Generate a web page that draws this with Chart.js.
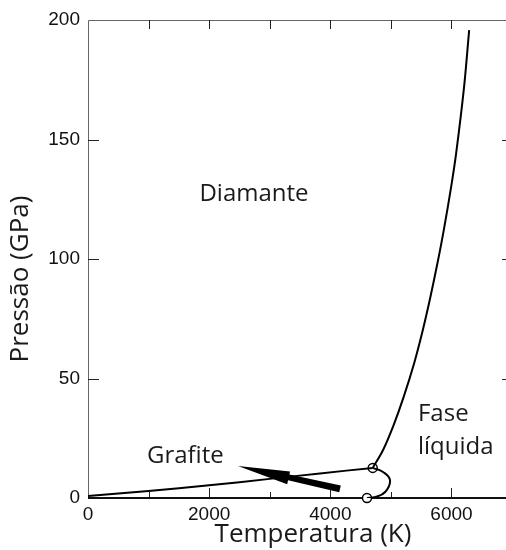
<!DOCTYPE html>
<html>
<head>
<meta charset="utf-8">
<title>Diagrama de fases do carbono</title>
<script src="https://cdn.jsdelivr.net/npm/chart.js@4.4.1/dist/chart.umd.min.js"></script>
<style>
  html, body { margin: 0; padding: 0; background: #fff; }
  canvas { display: block; }
</style>
</head>
<body>
<canvas id="phaseChart" width="506" height="550"></canvas>
<script>
// ── Data ────────────────────────────────────────────────
var xTicks      = [0, 2000, 4000, 6000];
var xMinorTicks = [1000, 3000, 5000];
var yTicks      = [0, 50, 100, 150, 200];

// graphite / diamond boundary up to the triple point
var graphiteT = [0, 1000, 2000, 3000, 3830, 4700];
var graphiteP = [0.8, 2.9, 5.3, 8.0, 10.3, 12.6];

// graphite melting curve, triple point down to 0 GPa
var meltGraphiteT = [4700, 4870, 4985, 4905, 4740, 4605];
var meltGraphiteP = [12.6, 10.9, 7.5, 2.5, 0.4, 0];

// diamond melting curve
var meltDiamondT = [4700, 4871, 5045, 5211, 5385, 5527, 5652, 5769, 5873, 5994, 6078, 6208, 6292];
var meltDiamondP = [12.6, 20.1, 30.5, 42.3, 56.5, 70.3, 84.1, 98.3, 112.1, 130.1, 144.4, 172.0, 195.8];

// open circles: triple point and graphite melting at 0 GPa
var markerT = [4700, 4605];
var markerP = [12.6, 0];

// arrow (tail -> head)
var arrowT = [4160, 2476];
var arrowP = [3.8, 13.4];

// region labels
var regionText  = ["Diamante", "Grafite", "Fase", "líquida"];
var regionT     = [2740, 974, 5447, 5447];
var regionP     = [124.1, 14.7, 32.3, 18.4];
var regionAlign = ["center", "left", "left", "left"];

function pts(xs, ys) {
  return xs.map(function(v, i) { return { x: v, y: ys[i] }; });
}

// ── Frame, inner ticks, arrow and labels ────────────────
var decor = {
  id: "decor",
  beforeDatasetsDraw: function(chart) {
    var ctx = chart.ctx, a = chart.chartArea;
    var sx = chart.scales.x, sy = chart.scales.y;
    ctx.save();

    // thin frame on left and top
    ctx.strokeStyle = "#666";
    ctx.lineWidth = 1;
    ctx.beginPath();
    ctx.moveTo(a.left + 0.5, a.bottom);
    ctx.lineTo(a.left + 0.5, a.top + 0.5);
    ctx.lineTo(a.right, a.top + 0.5);
    ctx.stroke();

    ctx.strokeStyle = "#222";
    ctx.beginPath();
    // top ticks
    xTicks.concat(xMinorTicks).forEach(function(v) {
      if (v === 0) return;
      var px = Math.round(sx.getPixelForValue(v)) + 0.5;
      ctx.moveTo(px, a.top); ctx.lineTo(px, a.top + 9);
    });
    // bottom ticks
    xTicks.forEach(function(v) {
      if (v === 0) return;
      var px = Math.round(sx.getPixelForValue(v)) + 0.5;
      ctx.moveTo(px, a.bottom); ctx.lineTo(px, a.bottom - 10);
    });
    xMinorTicks.forEach(function(v) {
      var px = Math.round(sx.getPixelForValue(v)) + 0.5;
      ctx.moveTo(px, a.bottom); ctx.lineTo(px, a.bottom - 6);
    });
    // left and right ticks
    yTicks.forEach(function(v) {
      if (v === 0 || v === 200) return;
      var py = Math.round(sy.getPixelForValue(v)) + 0.5;
      ctx.moveTo(a.left, py); ctx.lineTo(a.left + 11, py);
      ctx.moveTo(a.right - 4, py); ctx.lineTo(a.right, py);
    });
    ctx.stroke();

    // bottom axis line
    ctx.strokeStyle = "#111";
    ctx.lineWidth = 2;
    ctx.beginPath();
    ctx.moveTo(a.left, a.bottom);
    ctx.lineTo(a.right, a.bottom);
    ctx.stroke();
    ctx.restore();
  },
  afterDatasetsDraw: function(chart) {
    var ctx = chart.ctx;
    var sx = chart.scales.x, sy = chart.scales.y;
    ctx.save();

    // thick arrow pointing into the graphite field
    var x0 = sx.getPixelForValue(arrowT[0]), y0 = sy.getPixelForValue(arrowP[0]);
    var x1 = sx.getPixelForValue(arrowT[1]), y1 = sy.getPixelForValue(arrowP[1]);
    var ang = Math.atan2(y1 - y0, x1 - x0);
    var len = Math.hypot(x1 - x0, y1 - y0);
    ctx.translate(x0, y0);
    ctx.rotate(ang);
    ctx.fillStyle = "#000";
    ctx.beginPath();
    ctx.moveTo(0, -3.5);
    ctx.lineTo(len - 52, -3);
    ctx.lineTo(len - 52, -7);
    ctx.lineTo(len, 0);
    ctx.lineTo(len - 52, 6);
    ctx.lineTo(len - 52, 3);
    ctx.lineTo(0, 3.5);
    ctx.closePath();
    ctx.fill();
    ctx.setTransform(1, 0, 0, 1, 0, 0);

    // region names
    ctx.fillStyle = "#1a1a1a";
    ctx.font = "24px 'Open Sans', sans-serif";
    ctx.textBaseline = "alphabetic";
    regionText.forEach(function(t, i) {
      ctx.textAlign = regionAlign[i];
      ctx.fillText(t, sx.getPixelForValue(regionT[i]), sy.getPixelForValue(regionP[i]));
    });

    // axis titles
    ctx.font = "26px 'Open Sans', sans-serif";
    ctx.textAlign = "center";
    ctx.textBaseline = "middle";
    ctx.fillText("Temperatura (K)", 313, 535);
    ctx.translate(21, 279);
    ctx.rotate(-Math.PI / 2);
    ctx.fillText("Pressão (GPa)", 0, 0);
    ctx.restore();
  }
};

var lineStyle = {
  showLine: true,
  borderColor: "#000",
  borderWidth: 2,
  pointRadius: 0,
  fill: false
};

new Chart(document.getElementById("phaseChart"), {
  type: "scatter",
  data: {
    datasets: [
      Object.assign({ label: "Grafite/Diamante", data: pts(graphiteT, graphiteP), tension: 0.2 }, lineStyle),
      Object.assign({ label: "Fusão do grafite", data: pts(meltGraphiteT, meltGraphiteP), tension: 0.45 }, lineStyle),
      Object.assign({ label: "Fusão do diamante", data: pts(meltDiamondT, meltDiamondP), tension: 0.3 }, lineStyle),
      {
        label: "Pontos",
        data: pts(markerT, markerP),
        pointRadius: 4.5,
        pointBackgroundColor: "#fff",
        pointBorderColor: "#000",
        pointBorderWidth: 1.5,
        showLine: false,
        clip: false
      }
    ]
  },
  options: {
    responsive: false,
    animation: false,
    devicePixelRatio: 1,
    layout: { autoPadding: false, padding: { top: 20, right: 0, left: 0, bottom: 0 } },
    plugins: {
      legend: { display: false },
      tooltip: { enabled: false }
    },
    scales: {
      x: {
        type: "linear",
        min: 0,
        max: 6900,
        grid: { display: false, drawTicks: false },
        border: { display: false },
        afterBuildTicks: function(scale) {
          scale.ticks = xTicks.map(function(v) { return { value: v }; });
        },
        afterFit: function(scale) {
          scale.height = 52;
          scale.paddingLeft = 0;
          scale.paddingRight = 0;
        },
        ticks: {
          padding: 5,
          color: "#111",
          font: { family: "'Liberation Sans', Arial, sans-serif", size: 19 },
          maxRotation: 0,
          callback: function(v) { return String(v); }
        }
      },
      y: {
        type: "linear",
        min: 0,
        max: 200,
        grid: { display: false, drawTicks: false },
        border: { display: false },
        afterBuildTicks: function(scale) {
          scale.ticks = yTicks.map(function(v) { return { value: v }; });
        },
        afterFit: function(scale) { scale.width = 88; },
        ticks: {
          padding: 8,
          color: "#111",
          font: { family: "'Liberation Sans', Arial, sans-serif", size: 19 },
          callback: function(v) { return String(v); }
        }
      }
    }
  },
  plugins: [decor]
});
</script>
</body>
</html>
